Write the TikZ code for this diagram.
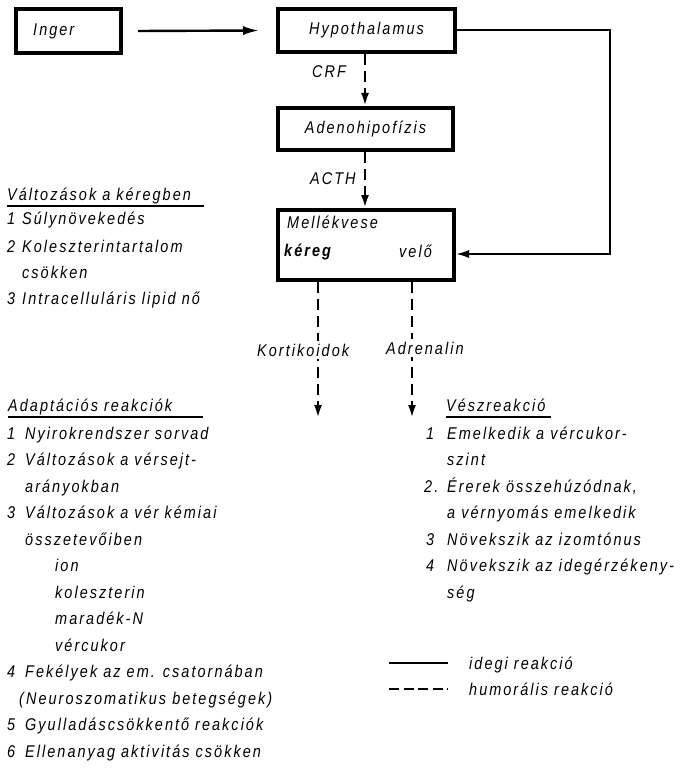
\documentclass[tikz,border=0pt]{standalone}
\usepackage{fontspec}
\setmainfont{Liberation Sans}
\newfontfamily\hf{Liberation Sans}[FakeStretch=0.85,LetterSpace=12]
\usetikzlibrary{arrows.meta}
\begin{document}
\begin{tikzpicture}[x=1pt,y=-1pt,
  box/.style={draw,line width=4pt,anchor=north west,inner sep=0pt,
    font=\hf\itshape\fontsize{17}{17}\selectfont},
  t/.style={anchor=base west,inner sep=0pt,yshift=-1pt,font=\hf\itshape\fontsize{17}{17}\selectfont},
  nerv/.style={line width=2pt},
  hum/.style={line width=2.5pt,dash pattern=on 11pt off 6pt},
  tip/.style={-{Latex[length=13pt,width=8pt]}},
  ul/.style={line width=1.1pt}]
\useasboundingbox (0,0) rectangle (682,770);
\fill[white] (0,0) rectangle (682,770);
% boxes
\node[box,minimum width=105pt,minimum height=44pt] (inger) at (14,7) {};
\node[t] (ingertxt) at (33,35) {Inger};
\node[box,minimum width=177pt,minimum height=43pt] (hyp) at (276,7) {Hypothalamus};
\node[box,minimum width=175pt,minimum height=42pt] (adeno) at (276,106) {Adenohipofízis};
\node[box,minimum width=176pt,minimum height=70pt] (mell) at (276,208) {};
\node[t] (mtxt) at (287,227) {Mellékvese};
\node[t,font=\hf\bfseries\itshape\fontsize{17}{17}\selectfont] (kereg) at (284,255) {kéreg};
\node[t] (velo) at (399,256) {velő};
% nervous connections
\coordinate (ia) at (138,29);
\coordinate (ib) at (259,29);
\draw[nerv,line width=2.4pt,-{Latex[length=16pt,width=9pt]}] (inger.east -| ia) -- (hyp.west -| ib);
\coordinate (rc) at (610,254);
\draw[nerv,tip] (hyp.east) -| (rc) -- (mell.east |- rc);
% humoral connections
\coordinate (crfx) at (365,0);
\draw[hum,tip] (hyp.south -| crfx) -- (adeno.north -| crfx);
\node[t] (crf) at (312,77) {CRF};
\draw[hum,tip] (adeno.south -| crfx) -- (mell.north -| crfx);
\node[t] (acth) at (310,183) {ACTH};
\coordinate (kend) at (318,418);
\coordinate (aend) at (412,418);
\draw[hum,tip] (mell.south -| kend) -- (kend);
\draw[hum,tip] (mell.south -| aend) -- (aend);
\node[t,fill=white,inner ysep=3pt] (kort) at (257,355) {Kortikoidok};
\node[t,fill=white,inner ysep=3pt] (adr) at (386,353) {Adrenalin};
% left top list
\node[t] (vh) at (7,199) {Változások a kéregben};
\draw[ul] (vh.base west) ++(0,6) -- ++(197,0);
\node[t] at (7,223) {1};  \node[t] at (22,223) {Súlynövekedés};
\node[t] at (7,251) {2};  \node[t] at (22,251) {Koleszterintartalom};
\node[t] at (22,277) {csökken};
\node[t] at (7,303) {3};  \node[t] at (22,303) {Intracelluláris lipid nő};
% adaptation list
\node[t] (ah) at (8,410) {Adaptációs reakciók};
\draw[ul] (ah.base west) ++(0,6) -- ++(195,0);
\node[t] at (7,438) {1};    \node[t] at (25,438) {Nyirokrendszer sorvad};
\node[t] at (7,464.5) {2};  \node[t] at (25,464.5) {Változások a vérsejt-};
\node[t] at (25,491) {arányokban};
\node[t] at (7,517.5) {3};  \node[t] at (25,517.5) {Változások a vér kémiai};
\node[t] at (25,544) {összetevőiben};
\node[t] at (55,570.5) {ion};
\node[t] at (55,597) {koleszterin};
\node[t] at (55,623.5) {maradék-N};
\node[t] at (55,650) {vércukor};
\node[t] at (7,676.5) {4};  \node[t] at (25,676.5) {Fekélyek az em. csatornában};
\node[t] at (19,703) {(Neuroszomatikus betegségek)};
\node[t] at (7,729.5) {5};  \node[t] at (25,729.5) {Gyulladáscsökkentő reakciók};
\node[t] at (7,756) {6};    \node[t] at (25,756) {Ellenanyag aktivitás csökken};
% emergency list
\node[t] (vsz) at (446,410) {Vészreakció};
\draw[ul] (vsz.base west) ++(0,6) -- ++(105,0);
\node[t] at (426,438) {1};    \node[t] at (447,438) {Emelkedik a vércukor-};
\node[t] at (447,464.5) {szint};
\node[t] at (424,491) {2.};   \node[t] at (447,491) {Érerek összehúzódnak,};
\node[t] at (447,517.5) {a vérnyomás emelkedik};
\node[t] at (426,544) {3};    \node[t] at (447,544) {Növekszik az izomtónus};
\node[t] at (426,570.5) {4};  \node[t] at (447,570.5) {Növekszik az idegérzékeny-};
\node[t] at (447,597) {ség};
% legend
\coordinate (l1a) at (389,663); \coordinate (l1b) at (448,663);
\coordinate (l2a) at (389,689); \coordinate (l2b) at (448,689);
\draw[nerv,line width=2.4pt] (l1a) -- (l1b);
\draw[hum,dash pattern=on 10pt off 4.5pt] (l2a) -- (l2b);
\node[t] (leg1) at (469,668) {idegi reakció};
\node[t] (leg2) at (469,694) {humorális reakció};
\end{tikzpicture}
\end{document}
